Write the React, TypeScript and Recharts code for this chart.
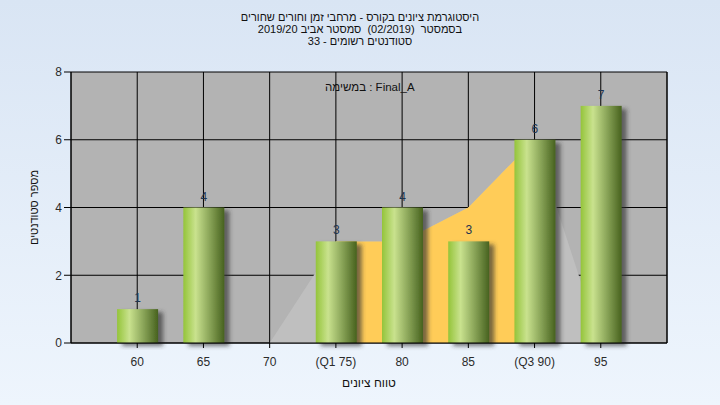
import React from 'react';
import {
  ComposedChart,
  Bar,
  Area,
  XAxis,
  YAxis,
  CartesianGrid,
  LabelList,
  Label,
} from 'recharts';

const grades = [60, 65, 70, 75, 80, 85, 90, 95];
const tickLabels = ['60', '65', '70', '(Q1 75)', '80', '85', '(Q3 90)', '95'];
const students = [1, 4, 0, 3, 4, 3, 6, 7];
const spread = [null, null, 0, 3, 3, 4, 6, 0];
const quartileBand = [null, null, null, 3, 3, 4, 6, null];
const yTicks = [0, 2, 4, 6, 8];

const titleLines = [
  'היסטוגרמת ציונים בקורס - מרחבי זמן וחורים שחורים',
  'בסמסטר  (02/2019)  סמסטר אביב 2019/20',
  'סטודנטים רשומים - 33',
];

const FONT = '"Liberation Sans", Arial, sans-serif';

const data = grades.map((g, i) => ({
  grade: g,
  count: students[i],
  spread: spread[i],
  quartile: quartileBand[i],
}));

const GradientBar = (props: any) => {
  const { x, y, width, height } = props;
  if (!height || height <= 0) return null;
  return (
    <rect
      x={x}
      y={y}
      width={width}
      height={height}
      fill="url(#barGrad)"
      filter="url(#barShadow)"
    />
  );
};

const tickStyle = { fill: '#2b2b2b', fontSize: 12, fontFamily: FONT };

export default function App() {
  return (
    <div
      style={{
        position: 'absolute',
        left: 0,
        top: 0,
        width: 720,
        height: 405,
        background: 'linear-gradient(180deg, #d9e5f4 0%, #eef5fd 100%)',
        fontFamily: FONT,
      }}
    >
      {titleLines.map((line, i) => (
        <div
          key={i}
          style={{
            position: 'absolute',
            left: 0,
            width: 720,
            top: 12 + i * 12,
            textAlign: 'center',
            direction: 'rtl',
            whiteSpace: 'pre',
            fontSize: 11,
            lineHeight: '11px',
            color: '#111',
          }}
        >
          {line}
        </div>
      ))}
      <ComposedChart
        width={720}
        height={405}
        data={data}
        margin={{ top: 72, right: 8, bottom: 32, left: 8 }}
      >
        <defs>
          <linearGradient id="barGrad" x1="0" y1="0" x2="1" y2="0">
            <stop offset="0%" stopColor="#94c43a" />
            <stop offset="30%" stopColor="#c9e28e" />
            <stop offset="65%" stopColor="#88a357" />
            <stop offset="100%" stopColor="#47621e" />
          </linearGradient>
          <filter id="barShadow" x="-20%" y="-20%" width="160%" height="140%">
            <feDropShadow dx="5" dy="3" stdDeviation="2" floodColor="#333" floodOpacity="0.65" />
          </filter>
        </defs>
        <CartesianGrid
          yAxisId="left"
          stroke="#000"
          fill="#b3b3b3"
          fillOpacity={1}
        />
        <XAxis
          dataKey="grade"
          type="number"
          domain={[55, 100]}
          ticks={grades}
          interval={0}
          tickFormatter={(v) => tickLabels[grades.indexOf(v)]}
          tickSize={5}
          tickMargin={9}
          height={30}
          axisLine={{ stroke: '#000' }}
          tickLine={{ stroke: '#000' }}
          tick={tickStyle}
        >
          <Label
            value="טווח ציונים"
            position="insideBottom"
            offset={-14}
            style={{ fill: '#111', fontSize: 12, fontFamily: FONT, direction: 'rtl' }}
          />
        </XAxis>
        <YAxis
          yAxisId="left"
          domain={[0, 8]}
          ticks={yTicks}
          width={63}
          tickSize={7}
          axisLine={{ stroke: '#000' }}
          tickLine={{ stroke: '#000' }}
          tick={tickStyle}
        >
          <Label
            value="מספר סטודנטים"
            angle={-90}
            position="insideLeft"
            offset={26}
            style={{ fill: '#111', fontSize: 11, fontFamily: FONT, textAnchor: 'middle', direction: 'rtl' }}
          />
        </YAxis>
        <YAxis
          yAxisId="right"
          orientation="right"
          domain={[0, 8]}
          ticks={yTicks}
          width={45}
          tickSize={7}
          axisLine={{ stroke: '#000' }}
          tickLine={{ stroke: '#000' }}
          tick={tickStyle}
        />
        <Area
          yAxisId="left"
          dataKey="spread"
          type="linear"
          stroke="none"
          fill="#bfbfbf"
          fillOpacity={1}
          isAnimationActive={false}
          dot={false}
          activeDot={false}
        />
        <Area
          yAxisId="left"
          dataKey="quartile"
          type="linear"
          stroke="none"
          fill="#ffcc58"
          fillOpacity={1}
          isAnimationActive={false}
          dot={false}
          activeDot={false}
        />
        <Bar
          yAxisId="left"
          dataKey="count"
          barSize={41}
          shape={GradientBar}
          isAnimationActive={false}
        >
          <LabelList
            dataKey="count"
            position="top"
            offset={7}
            fill="#1e3450"
            fontSize={12}
            fontFamily={FONT}
            formatter={(v: any) => (v ? v : '')}
          />
        </Bar>
      </ComposedChart>
      <div
        style={{
          position: 'absolute',
          left: 325,
          top: 81,
          fontSize: 11.5,
          lineHeight: '12px',
          color: '#111',
          whiteSpace: 'nowrap',
        }}
      >
        במשימה : Final_A
      </div>
    </div>
  );
}
